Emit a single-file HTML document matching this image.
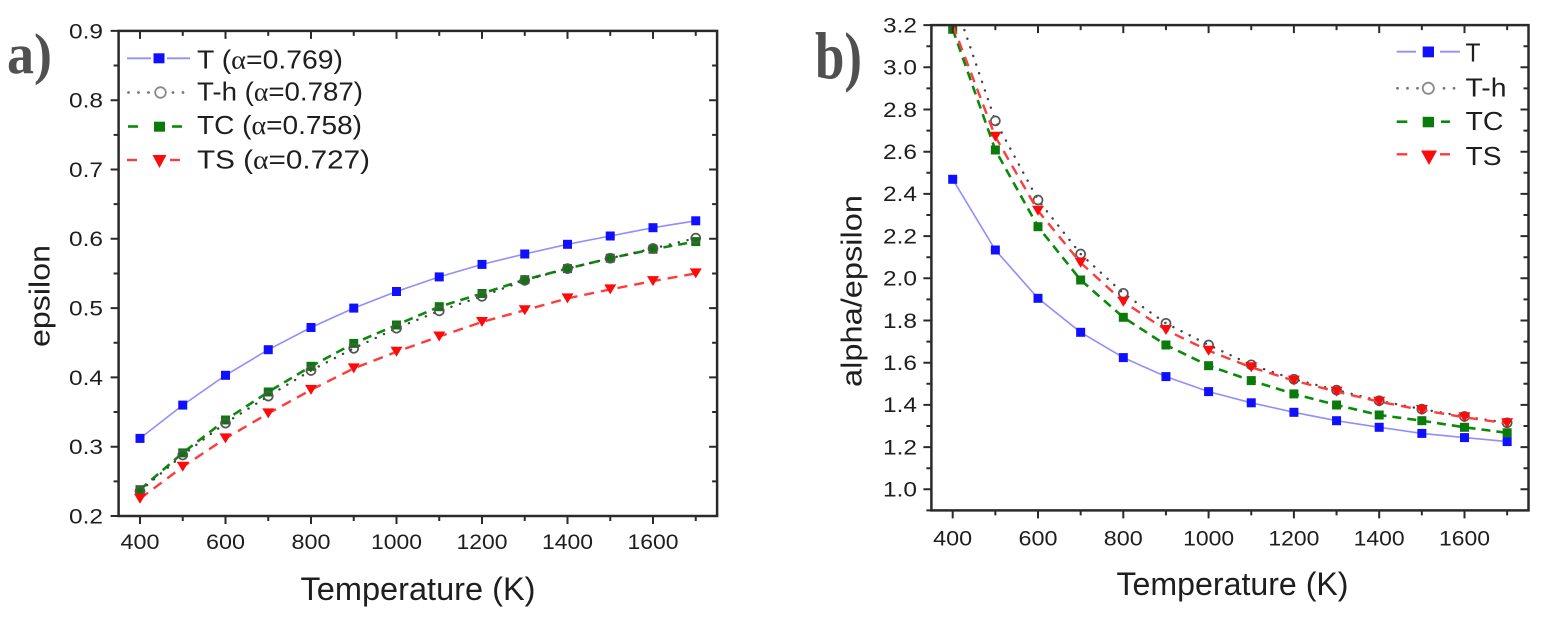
<!DOCTYPE html>
<html><head><meta charset="utf-8"><style>
html,body{margin:0;padding:0;background:#fff;}
svg{display:block;}
text{font-family:"Liberation Sans",Arial,sans-serif;fill:#1e1e1e;}
</style></head><body>
<svg width="1544" height="620" viewBox="0 0 1544 620" xmlns="http://www.w3.org/2000/svg">
<defs>
<marker id="sqB" markerUnits="userSpaceOnUse" markerWidth="12" markerHeight="12" refX="6" refY="6" overflow="visible"><rect x="1.5" y="1.5" width="9" height="9" fill="#1010ff"/></marker>
<marker id="sqG" markerUnits="userSpaceOnUse" markerWidth="12" markerHeight="12" refX="6" refY="6" overflow="visible"><rect x="1.5" y="1.5" width="9" height="9" fill="#0a7a0a"/></marker>
<marker id="ciH" markerUnits="userSpaceOnUse" markerWidth="12" markerHeight="12" refX="6" refY="6" overflow="visible"><circle cx="6" cy="6" r="4.5" fill="none" stroke="#555" stroke-width="1.7"/></marker>
<marker id="trR" markerUnits="userSpaceOnUse" markerWidth="14" markerHeight="14" refX="6" refY="6" overflow="visible"><path d="M0 1 L12 1 L6 11 Z" fill="#ff0a0a"/></marker>
<clipPath id="clipL"><rect x="118.6" y="30.9" width="598.5" height="485.1"/></clipPath>
<clipPath id="clipR"><rect x="931.4" y="25.1" width="597.1" height="485.3"/></clipPath>
</defs>
<rect width="1544" height="620" fill="#fff"/>

<!-- ============ LEFT CHART ============ -->
<text x="7" y="73" font-family="Liberation Serif" font-weight="bold" font-size="57" fill="#505050" style="fill:#505050;font-family:'Liberation Serif',serif" textLength="45" lengthAdjust="spacingAndGlyphs">a)</text>

<g clip-path="url(#clipL)">
<polyline fill="none" stroke="#8f8fff" stroke-width="1.6" points="140,438.4 182.75,405.1 225.5,375.3 268.25,349.7 311,327.5 353.75,308.1 396.5,291.5 439.25,276.9 482,264.4 524.75,254.0 567.5,244.3 610.25,236.0 653,227.7 695.75,220.8" marker-start="url(#sqB)" marker-mid="url(#sqB)" marker-end="url(#sqB)"/>
<polyline fill="none" stroke="#0a8a0a" stroke-width="2.6" stroke-dasharray="9 6" points="140,489.7 182.75,452.9 225.5,420.0 268.25,392.0 311,366.3 353.75,343.4 396.5,325.0 439.25,306.7 482,293.5 524.75,279.7 567.5,268.6 610.25,258.2 653,249.2 695.75,241.6" marker-start="url(#sqG)" marker-mid="url(#sqG)" marker-end="url(#sqG)"/>
<polyline fill="none" stroke="#444" stroke-width="2.4" stroke-linecap="round" stroke-dasharray="0.1 9" points="140,491.1 182.75,455.0 225.5,423.1 268.25,396.1 311,370.5 353.75,348.3 396.5,328.2 439.25,310.9 482,296.3 524.75,280.4 567.5,268.6 610.25,258.2 653,248.5 695.75,238.1" marker-start="url(#ciH)" marker-mid="url(#ciH)" marker-end="url(#ciH)"/>
<polyline fill="none" stroke="#ff3b3b" stroke-width="2.4" stroke-dasharray="10 7" points="140,498.7 182.75,466.8 225.5,438.4 268.25,413.4 311,389.9 353.75,368.4 396.5,351.8 439.25,336.5 482,322.0 524.75,310.2 567.5,298.4 610.25,289.4 653,281.1 695.75,273.4" marker-start="url(#trR)" marker-mid="url(#trR)" marker-end="url(#trR)"/>
</g>

<rect x="118.6" y="30.9" width="598.5" height="485.1" fill="none" stroke="#2a2a2a" stroke-width="2.5"/>
<path fill="none" stroke="#2a2a2a" stroke-width="2" d="
M140 516v8 M225.5 516v8 M311 516v8 M396.5 516v8 M482 516v8 M567.5 516v8 M653 516v8
M182.75 516v5 M268.25 516v5 M353.75 516v5 M439.25 516v5 M524.75 516v5 M610.25 516v5 M695.75 516v5
M140 30.9v8 M225.5 30.9v8 M311 30.9v8 M396.5 30.9v8 M482 30.9v8 M567.5 30.9v8 M653 30.9v8
M182.75 30.9v5 M268.25 30.9v5 M353.75 30.9v5 M439.25 30.9v5 M524.75 30.9v5 M610.25 30.9v5 M695.75 30.9v5
M118.6 516h-8 M118.6 446.7h-8 M118.6 377.4h-8 M118.6 308.1h-8 M118.6 238.8h-8 M118.6 169.5h-8 M118.6 100.2h-8 M118.6 30.9h-8
M118.6 481.35h-5 M118.6 412.05h-5 M118.6 342.75h-5 M118.6 273.45h-5 M118.6 204.15h-5 M118.6 134.85h-5 M118.6 65.55h-5
M717.1 446.7h-8 M717.1 377.4h-8 M717.1 308.1h-8 M717.1 238.8h-8 M717.1 169.5h-8 M717.1 100.2h-8
M717.1 481.35h-5 M717.1 412.05h-5 M717.1 342.75h-5 M717.1 273.45h-5 M717.1 204.15h-5 M717.1 134.85h-5 M717.1 65.55h-5"/>

<g font-size="21" text-anchor="end">
<text x="103" y="523.4" textLength="34" lengthAdjust="spacingAndGlyphs">0.2</text>
<text x="103" y="454.1" textLength="34" lengthAdjust="spacingAndGlyphs">0.3</text>
<text x="103" y="384.8" textLength="34" lengthAdjust="spacingAndGlyphs">0.4</text>
<text x="103" y="315.5" textLength="34" lengthAdjust="spacingAndGlyphs">0.5</text>
<text x="103" y="246.2" textLength="34" lengthAdjust="spacingAndGlyphs">0.6</text>
<text x="103" y="176.9" textLength="34" lengthAdjust="spacingAndGlyphs">0.7</text>
<text x="103" y="107.6" textLength="34" lengthAdjust="spacingAndGlyphs">0.8</text>
<text x="103" y="38.3" textLength="34" lengthAdjust="spacingAndGlyphs">0.9</text>
</g>
<g font-size="21" text-anchor="middle">
<text x="140" y="549" textLength="39" lengthAdjust="spacingAndGlyphs">400</text>
<text x="225.5" y="549" textLength="39" lengthAdjust="spacingAndGlyphs">600</text>
<text x="311" y="549" textLength="39" lengthAdjust="spacingAndGlyphs">800</text>
<text x="396.5" y="549" textLength="51" lengthAdjust="spacingAndGlyphs">1000</text>
<text x="482" y="549" textLength="51" lengthAdjust="spacingAndGlyphs">1200</text>
<text x="567.5" y="549" textLength="51" lengthAdjust="spacingAndGlyphs">1400</text>
<text x="653" y="549" textLength="51" lengthAdjust="spacingAndGlyphs">1600</text>
</g>
<text x="418" y="600" font-size="32" text-anchor="middle" textLength="235" lengthAdjust="spacingAndGlyphs">Temperature (K)</text>
<text transform="translate(49.5,296) rotate(-90)" font-size="29" text-anchor="middle" textLength="102" lengthAdjust="spacingAndGlyphs">epsilon</text>

<!-- left legend -->
<line x1="127" y1="58.3" x2="151" y2="58.3" stroke="#8f8fff" stroke-width="1.8"/>
<line x1="167" y1="58.3" x2="190" y2="58.3" stroke="#8f8fff" stroke-width="1.8"/>
<rect x="153.5" y="53.3" width="11" height="10" fill="#1010ff"/>
<g fill="#777"><circle cx="128.5" cy="92.5" r="1.4"/><circle cx="138.5" cy="92.5" r="1.4"/><circle cx="148.5" cy="92.5" r="1.4"/><circle cx="173" cy="92.5" r="1.4"/><circle cx="183" cy="92.5" r="1.4"/></g>
<circle cx="160.5" cy="92.5" r="5.3" fill="#fff" stroke="#8a8a8a" stroke-width="1.8"/>
<line x1="128" y1="126.5" x2="138" y2="126.5" stroke="#0a8a0a" stroke-width="2.6"/>
<line x1="172" y1="126.5" x2="182" y2="126.5" stroke="#0a8a0a" stroke-width="2.6"/>
<rect x="154" y="121.7" width="11" height="10" fill="#0a7a0a"/>
<line x1="127" y1="160" x2="137" y2="160" stroke="#ff3b3b" stroke-width="2.4"/>
<line x1="170" y1="160" x2="180" y2="160" stroke="#ff3b3b" stroke-width="2.4"/>
<path d="M152.5 155 L166.5 155 L159.5 168 Z" fill="#ff0a0a"/>
<g font-size="26">
<text x="197" y="68.3" textLength="146" lengthAdjust="spacingAndGlyphs">T (<tspan style="font-family:'Liberation Serif',serif">α</tspan>=0.769)</text>
<text x="197" y="100.5" textLength="166" lengthAdjust="spacingAndGlyphs">T-h (<tspan style="font-family:'Liberation Serif',serif">α</tspan>=0.787)</text>
<text x="197" y="134" textLength="165" lengthAdjust="spacingAndGlyphs">TC (<tspan style="font-family:'Liberation Serif',serif">α</tspan>=0.758)</text>
<text x="197" y="168.3" textLength="173" lengthAdjust="spacingAndGlyphs">TS  (<tspan style="font-family:'Liberation Serif',serif">α</tspan>=0.727)</text>
</g>

<!-- ============ RIGHT CHART ============ -->
<text x="815" y="78.7" font-weight="bold" font-size="67" style="fill:#505050;font-family:'Liberation Serif',serif" textLength="47" lengthAdjust="spacingAndGlyphs">b)</text>

<g clip-path="url(#clipR)">
<polyline fill="none" stroke="#8f8fff" stroke-width="1.6" points="952.7,179.3 995.35,250.0 1038.0,298.3 1080.65,332.3 1123.3,357.6 1165.95,376.6 1208.6,391.6 1251.25,402.8 1293.9,412.3 1336.55,420.7 1379.2,427.3 1421.85,433.4 1464.5,437.6 1507.15,441.6" marker-start="url(#sqB)" marker-mid="url(#sqB)" marker-end="url(#sqB)"/>
<polyline fill="none" stroke="#0a8a0a" stroke-width="2.6" stroke-dasharray="9 6" points="952.7,29.3 995.35,150.0 1038.0,226.7 1080.65,280.0 1123.3,317.3 1165.95,345.0 1208.6,365.7 1251.25,380.6 1293.9,393.9 1336.55,405.0 1379.2,415.0 1421.85,420.7 1464.5,427.3 1507.15,432.8" marker-start="url(#sqG)" marker-mid="url(#sqG)" marker-end="url(#sqG)"/>
<polyline fill="none" stroke="#444" stroke-width="2.4" stroke-linecap="round" stroke-dasharray="0.1 9" points="952.7,-4.4 995.35,120.9 1038.0,200.0 1080.65,254.0 1123.3,293.3 1165.95,323.3 1208.6,345.0 1251.25,364.8 1293.9,379.2 1336.55,390.1 1379.2,400.7 1421.85,409.1 1464.5,416.5 1507.15,422.8" marker-start="url(#ciH)" marker-mid="url(#ciH)" marker-end="url(#ciH)"/>
<polyline fill="none" stroke="#ff3b3b" stroke-width="2.4" stroke-dasharray="10 7" points="952.7,25.1 995.35,136.7 1038.0,210.8 1080.65,262.7 1123.3,301.7 1165.95,330.0 1208.6,350.7 1251.25,367.3 1293.9,380.6 1336.55,391.6 1379.2,401.7 1421.85,410.0 1464.5,417.3 1507.15,423.3" marker-start="url(#trR)" marker-mid="url(#trR)" marker-end="url(#trR)"/>
</g>

<rect x="931.4" y="25.1" width="597.1" height="485.3" fill="none" stroke="#2a2a2a" stroke-width="2.5"/>
<path fill="none" stroke="#2a2a2a" stroke-width="2" d="
M952.7 510.4v8 M1038 510.4v8 M1123.3 510.4v8 M1208.6 510.4v8 M1293.9 510.4v8 M1379.2 510.4v8 M1464.5 510.4v8
M995.35 510.4v5 M1080.65 510.4v5 M1165.95 510.4v5 M1251.25 510.4v5 M1336.55 510.4v5 M1421.85 510.4v5 M1507.15 510.4v5
M952.7 25.1v8 M1038 25.1v8 M1123.3 25.1v8 M1208.6 25.1v8 M1293.9 25.1v8 M1379.2 25.1v8 M1464.5 25.1v8
M995.35 25.1v5 M1080.65 25.1v5 M1165.95 25.1v5 M1251.25 25.1v5 M1336.55 25.1v5 M1421.85 25.1v5 M1507.15 25.1v5
M931.4 489.3h-8 M931.4 447.1h-8 M931.4 404.9h-8 M931.4 362.7h-8 M931.4 320.5h-8 M931.4 278.3h-8 M931.4 236.1h-8 M931.4 193.9h-8 M931.4 151.7h-8 M931.4 109.5h-8 M931.4 67.3h-8 M931.4 25.1h-8
M931.4 510.4h-5 M931.4 468.2h-5 M931.4 426h-5 M931.4 383.8h-5 M931.4 341.6h-5 M931.4 299.4h-5 M931.4 257.2h-5 M931.4 215h-5 M931.4 172.8h-5 M931.4 130.6h-5 M931.4 88.4h-5 M931.4 46.2h-5
M1528.5 489.3h-8 M1528.5 447.1h-8 M1528.5 404.9h-8 M1528.5 362.7h-8 M1528.5 320.5h-8 M1528.5 278.3h-8 M1528.5 236.1h-8 M1528.5 193.9h-8 M1528.5 151.7h-8 M1528.5 109.5h-8 M1528.5 67.3h-8
M1528.5 468.2h-5 M1528.5 426h-5 M1528.5 383.8h-5 M1528.5 341.6h-5 M1528.5 299.4h-5 M1528.5 257.2h-5 M1528.5 215h-5 M1528.5 172.8h-5 M1528.5 130.6h-5 M1528.5 88.4h-5 M1528.5 46.2h-5"/>

<g font-size="21" text-anchor="end">
<text x="917" y="496.6" textLength="34" lengthAdjust="spacingAndGlyphs">1.0</text>
<text x="917" y="454.4" textLength="34" lengthAdjust="spacingAndGlyphs">1.2</text>
<text x="917" y="412.2" textLength="34" lengthAdjust="spacingAndGlyphs">1.4</text>
<text x="917" y="370" textLength="34" lengthAdjust="spacingAndGlyphs">1.6</text>
<text x="917" y="327.8" textLength="34" lengthAdjust="spacingAndGlyphs">1.8</text>
<text x="917" y="285.6" textLength="34" lengthAdjust="spacingAndGlyphs">2.0</text>
<text x="917" y="243.4" textLength="34" lengthAdjust="spacingAndGlyphs">2.2</text>
<text x="917" y="201.2" textLength="34" lengthAdjust="spacingAndGlyphs">2.4</text>
<text x="917" y="159" textLength="34" lengthAdjust="spacingAndGlyphs">2.6</text>
<text x="917" y="116.8" textLength="34" lengthAdjust="spacingAndGlyphs">2.8</text>
<text x="917" y="74.6" textLength="34" lengthAdjust="spacingAndGlyphs">3.0</text>
<text x="917" y="32.4" textLength="34" lengthAdjust="spacingAndGlyphs">3.2</text>
</g>
<g font-size="21" text-anchor="middle">
<text x="952.7" y="545.5" textLength="39" lengthAdjust="spacingAndGlyphs">400</text>
<text x="1038" y="545.5" textLength="39" lengthAdjust="spacingAndGlyphs">600</text>
<text x="1123.3" y="545.5" textLength="39" lengthAdjust="spacingAndGlyphs">800</text>
<text x="1208.6" y="545.5" textLength="51" lengthAdjust="spacingAndGlyphs">1000</text>
<text x="1293.9" y="545.5" textLength="51" lengthAdjust="spacingAndGlyphs">1200</text>
<text x="1379.2" y="545.5" textLength="51" lengthAdjust="spacingAndGlyphs">1400</text>
<text x="1464.5" y="545.5" textLength="51" lengthAdjust="spacingAndGlyphs">1600</text>
</g>
<text x="1232.5" y="595" font-size="32" text-anchor="middle" textLength="232" lengthAdjust="spacingAndGlyphs">Temperature (K)</text>
<text transform="translate(861.5,291) rotate(-90)" font-size="29" text-anchor="middle" textLength="192" lengthAdjust="spacingAndGlyphs">alpha/epsilon</text>

<!-- right legend -->
<line x1="1396.7" y1="51.7" x2="1416" y2="51.7" stroke="#8f8fff" stroke-width="1.8"/>
<line x1="1440" y1="51.7" x2="1460" y2="51.7" stroke="#8f8fff" stroke-width="1.8"/>
<rect x="1422.7" y="46.5" width="11.3" height="10.8" fill="#1010ff"/>
<g fill="#777"><circle cx="1397.5" cy="88.3" r="1.4"/><circle cx="1407.5" cy="88.3" r="1.4"/><circle cx="1417.5" cy="88.3" r="1.4"/><circle cx="1444" cy="88.3" r="1.4"/><circle cx="1454" cy="88.3" r="1.4"/></g>
<circle cx="1428.3" cy="88.3" r="5.6" fill="#fff" stroke="#8a8a8a" stroke-width="1.8"/>
<line x1="1396.7" y1="121.7" x2="1407.3" y2="121.7" stroke="#0a8a0a" stroke-width="2.6"/>
<line x1="1441" y1="121.7" x2="1450" y2="121.7" stroke="#0a8a0a" stroke-width="2.6"/>
<rect x="1422.7" y="116.8" width="11.3" height="10.5" fill="#0a7a0a"/>
<line x1="1396.7" y1="154.3" x2="1407.3" y2="154.3" stroke="#ff3b3b" stroke-width="2.4"/>
<line x1="1440" y1="154.3" x2="1450" y2="154.3" stroke="#ff3b3b" stroke-width="2.4"/>
<path d="M1421 150.5 L1437 150.5 L1429 165 Z" fill="#ff0a0a"/>
<g font-size="26">
<text x="1465.5" y="61.7" textLength="15" lengthAdjust="spacingAndGlyphs">T</text>
<text x="1465.5" y="96.7" textLength="41" lengthAdjust="spacingAndGlyphs">T-h</text>
<text x="1465.5" y="130" textLength="38" lengthAdjust="spacingAndGlyphs">TC</text>
<text x="1465.5" y="165" textLength="36" lengthAdjust="spacingAndGlyphs">TS</text>
</g>
</svg>
</body></html>
